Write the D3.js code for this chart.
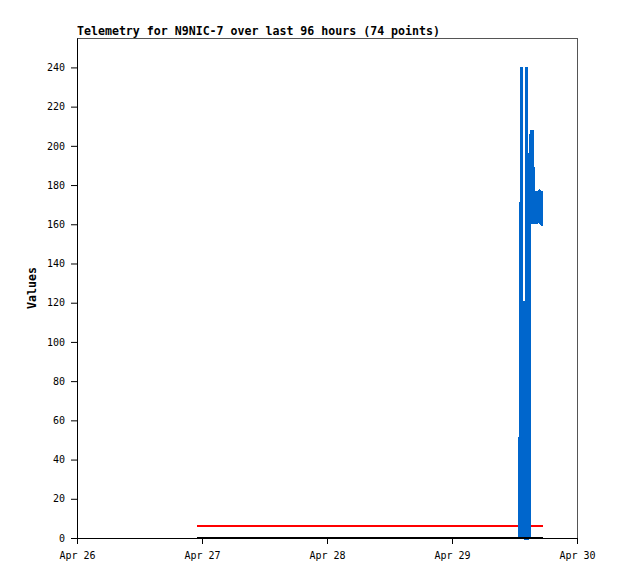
<!DOCTYPE html>
<html>
<head>
<meta charset="utf-8">
<script src="https://cdn.jsdelivr.net/npm/d3@7"></script>
<style>
  html, body { margin: 0; padding: 0; background: #fff; }
  svg { display: block; }
  text { font-family: "DejaVu Sans Mono", monospace; }
</style>
</head>
<body>
<div id="chart"></div>
<script>
// ---- data ----
const titleText = "Telemetry for N9NIC-7 over last 96 hours (74 points)";
const yLabel = "Values";
const xDomain = ["2024-04-26T00:00:00Z", "2024-04-30T00:00:00Z"];
const xTickDates = ["2024-04-26T00:00:00Z", "2024-04-27T00:00:00Z", "2024-04-28T00:00:00Z", "2024-04-29T00:00:00Z", "2024-04-30T00:00:00Z"];
const xTickLabels = ["Apr 26", "Apr 27", "Apr 28", "Apr 29", "Apr 30"];
const yTicks = [0, 20, 40, 60, 80, 100, 120, 140, 160, 180, 200, 220, 240];
const yMax = 255;

const refTimes = ["2024-04-26T23:02:00Z", "2024-04-29T17:28:00Z"];
const redValues = [6, 6];
const blackValues = [0, 0];

const blueTimes = [
  "2024-04-29T13:01:00Z", "2024-04-29T13:03:00Z", "2024-04-29T13:10:00Z", "2024-04-29T13:24:00Z",
  "2024-04-29T13:28:00Z", "2024-04-29T13:46:00Z", "2024-04-29T13:48:00Z", "2024-04-29T14:19:00Z",
  "2024-04-29T14:22:00Z", "2024-04-29T14:24:00Z", "2024-04-29T14:50:00Z", "2024-04-29T14:53:00Z",
  "2024-04-29T15:13:00Z", "2024-04-29T15:16:00Z", "2024-04-29T15:27:00Z", "2024-04-29T15:35:00Z",
  "2024-04-29T15:40:00Z", "2024-04-29T15:52:00Z", "2024-04-29T16:01:00Z", "2024-04-29T16:10:00Z",
  "2024-04-29T16:19:00Z", "2024-04-29T16:28:00Z", "2024-04-29T16:38:00Z", "2024-04-29T16:47:00Z",
  "2024-04-29T16:56:00Z", "2024-04-29T17:01:00Z", "2024-04-29T17:08:00Z", "2024-04-29T17:11:00Z",
  "2024-04-29T17:28:00Z"
];
const blueValues = [
  0, 45, 132, 240,
  0, 121, 0, 0,
  240, 0, 0, 192,
  208, 160, 208, 184,
  160, 177, 168, 177,
  160, 177, 168, 177,
  177, 160, 177, 160,
  160
];

// ---- layout ----
const W = 618, H = 579;
const margin = { left: 77, top: 38 };
const pw = 500, ph = 500;

const svg = d3.select("#chart").append("svg").attr("width", W).attr("height", H);

const x = d3.scaleUtc().domain(xDomain.map(d => new Date(d))).range([0, pw]);
const y = d3.scaleLinear().domain([0, yMax]).range([ph, 0]);

const g = svg.append("g").attr("transform", `translate(${margin.left},${margin.top})`);

// frame
g.append("rect").attr("x", 0.5).attr("y", 0.5).attr("width", pw).attr("height", ph)
  .attr("fill", "none").attr("stroke", "#555").attr("stroke-width", 1);

// title
svg.append("text").attr("x", margin.left).attr("y", 35)
  .attr("font-size", "11.6px").attr("font-weight", "bold").attr("fill", "#000")
  .text(titleText);

// y label
svg.append("text").attr("transform", `translate(36,${margin.top + ph / 2}) rotate(-90)`)
  .attr("text-anchor", "middle").attr("font-size", "11.6px").attr("font-weight", "bold")
  .text(yLabel);

const line = d3.line().x(d => x(d.t)).y(d => y(d.v));

const toPts = (ts, vs) => ts.map((t, i) => ({ t: new Date(t), v: vs[i] }));

g.append("path").datum(toPts(refTimes, redValues)).attr("d", line)
  .attr("fill", "none").attr("stroke", "#ff0000").attr("stroke-width", 2)
  .attr("shape-rendering", "crispEdges");

g.append("path").datum(toPts(blueTimes, blueValues)).attr("d", line)
  .attr("fill", "none").attr("stroke", "#0066cc").attr("stroke-width", 3)
  .attr("stroke-linejoin", "bevel").attr("stroke-linecap", "butt")
  .attr("shape-rendering", "crispEdges");

g.append("path").datum(toPts(refTimes, blackValues)).attr("d", line)
  .attr("fill", "none").attr("stroke", "#000").attr("stroke-width", 2)
  .attr("shape-rendering", "crispEdges");

// axes
const yAxis = d3.axisLeft(y).tickValues(yTicks).tickSize(6).tickSizeOuter(0);
const yg = g.append("g").call(yAxis);
yg.select(".domain").attr("stroke", "#000");
yg.selectAll("text").attr("font-size", "10px").attr("font-family", "DejaVu Sans Mono, monospace").attr("dx", "-3");

const xAxis = d3.axisBottom(x).tickValues(xTickDates.map(d => new Date(d)))
  .tickFormat((d, i) => xTickLabels[i]).tickSize(6).tickSizeOuter(0);
const xg = g.append("g").attr("transform", `translate(0,${ph})`).call(xAxis);
xg.select(".domain").attr("stroke", "#000");
xg.selectAll("text").attr("font-size", "10px").attr("font-family", "DejaVu Sans Mono, monospace").attr("dy", "1.2em");
</script>
</body>
</html>
